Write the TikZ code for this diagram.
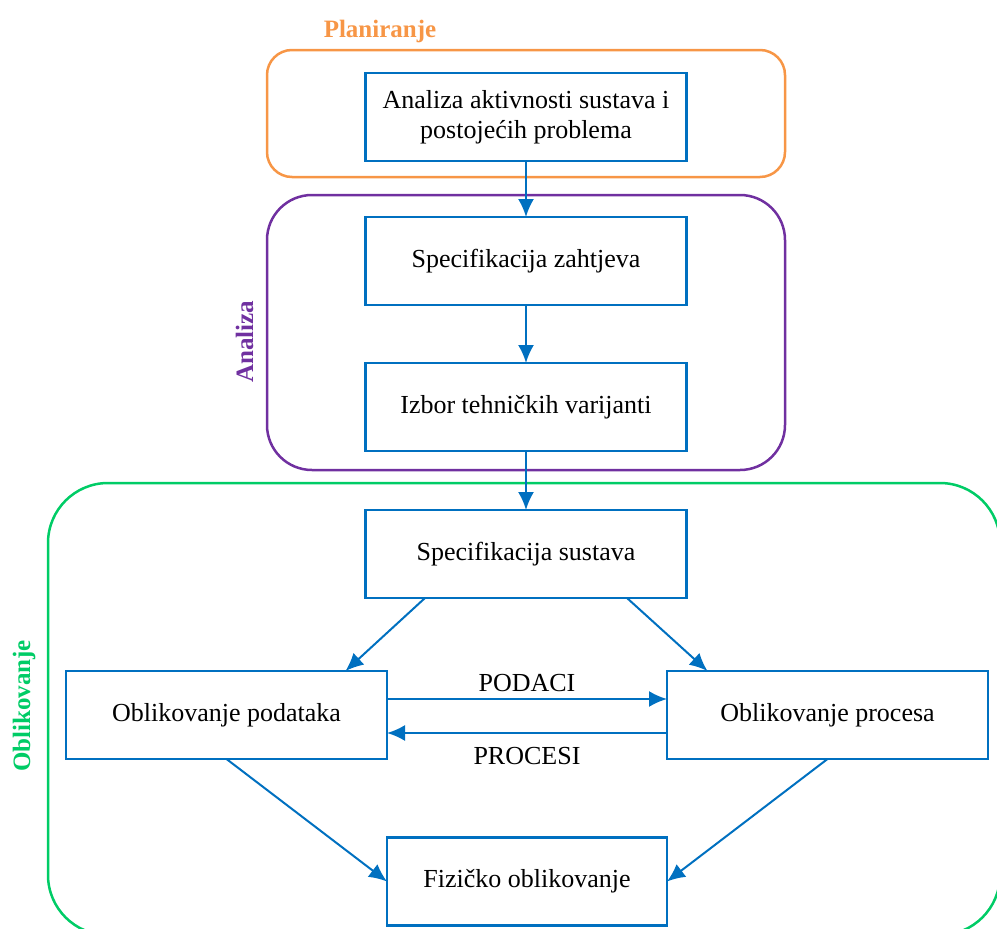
\documentclass[tikz,border=0pt]{standalone}
\usepackage{fontspec}
\setmainfont{Liberation Serif}
\usetikzlibrary{positioning}
\usetikzlibrary{arrows.meta}

\definecolor{boxblue}{HTML}{0070C0}
\definecolor{planorange}{HTML}{F79646}
\definecolor{anapurple}{HTML}{7030A0}
\definecolor{oblgreen}{RGB}{0,204,102}

\begin{document}
\begin{tikzpicture}[x=1pt,y=-1pt,node distance=56pt,
  box/.style={rectangle,draw=boxblue,line width=2.5pt,outer sep=0pt,minimum width=321pt,minimum height=88pt,align=center,font=\fontsize{26}{30}\selectfont},
  phasebox/.style={rectangle,rounded corners=#1,line width=2.5pt,outer sep=0pt},
  phaselabel/.style={font=\fontsize{25}{30}\selectfont\bfseries},
  flow/.style={-{Latex[length=18pt,width=16pt]},boxblue,line width=2pt},
  flowlabel/.style={text=black,font=\fontsize{26}{30}\selectfont}]
\useasboundingbox (0,0) rectangle (997,929);
\clip (0,0) rectangle (997,929);

% faze
\node[phasebox=25pt,draw=planorange,minimum width=518pt,minimum height=127pt] (plan) at (526,113.5) {};
\node[phasebox=45pt,draw=anapurple,minimum width=518pt,minimum height=275pt] (ana) at (526,332.5) {};
\node[phasebox=60pt,draw=oblgreen,minimum width=952pt,minimum height=452pt] (obl) at (524,709) {};

\node[phaselabel,text=planorange] (planlbl) at (380,31) {Planiranje};
\node[phaselabel,text=anapurple,rotate=90] (analbl) at (244.5,341.5) {Analiza};
\node[phaselabel,text=oblgreen,rotate=90] (obllbl) at (24,706) {Oblikovanje};

% koraci
\node[box] (akt) at (526,117) {Analiza aktivnosti sustava i\\postojećih problema};
\node[box,below=of akt] (spz) {Specifikacija zahtjeva};
\node[box,below=58pt of spz] (izb) {Izbor tehničkih varijanti};
\node[box,below=59pt of izb] (sps) {Specifikacija sustava};
\node[box] (pod) at (226.5,715) {Oblikovanje podataka};
\node[box,right=280pt of pod] (pro) {Oblikovanje procesa};
\node[box,minimum width=280pt] (fiz) at (527,881.5) {Fizičko oblikovanje};

\draw[flow] (akt) -- (spz);
\draw[flow] (spz) -- (izb);
\draw[flow] (izb) -- (sps);
\draw[flow] ([xshift=-101pt]sps.south) -- ([xshift=119pt]pod.north);
\draw[flow] ([xshift=101pt]sps.south) -- ([xshift=-120pt]pro.north);
\draw[flow] ([yshift=16pt]pod.east) -- node[flowlabel,above=3pt] (podlbl) {PODACI} ([yshift=16pt]pro.west);
\draw[flow] ([yshift=-18pt]pro.west) -- node[flowlabel,below=10pt] (prolbl) {PROCESI} ([yshift=-18pt]pod.east);
\draw[flow] (pod.south) -- (fiz.west);
\draw[flow] (pro.south) -- (fiz.east);
\end{tikzpicture}
\end{document}
